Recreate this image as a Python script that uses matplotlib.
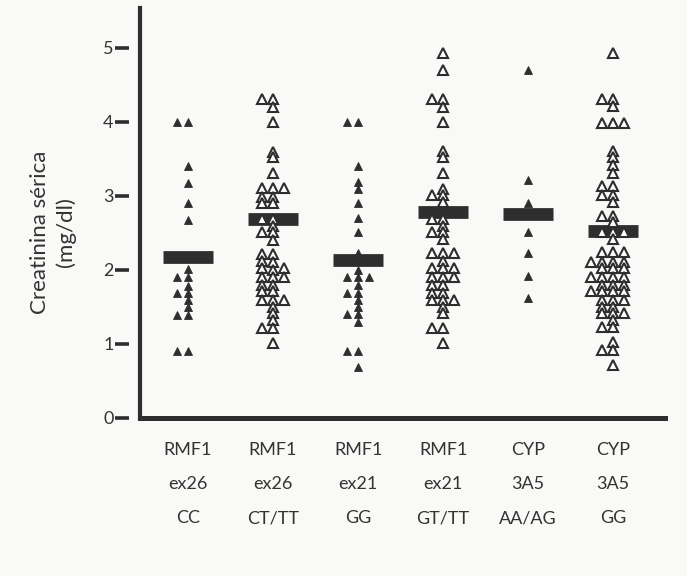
import numpy as np
import matplotlib
matplotlib.use("Agg")
import matplotlib.pyplot as plt

# categorias (eje x)
grupos = ["RMF1\nex26\nCC", "RMF1\nex26\nCT/TT", "RMF1\nex21\nGG",
          "RMF1\nex21\nGT/TT", "CYP\n3A5\nAA/AG", "CYP\n3A5\nGG"]
# True = triangulo relleno, False = triangulo vacio
relleno = [True, False, True, False, True, False]

# creatinina serica (mg/dl)
g1 = [4.0, 4.0, 3.41, 3.18, 2.90, 2.68, 2.02, 1.91, 1.91, 1.79, 1.69, 1.69,
      1.59, 1.50, 1.39, 1.39, 0.90, 0.90]
g2 = [4.31, 4.31, 4.20, 4.00, 3.60, 3.52, 3.31, 3.11, 3.11, 3.11, 2.99, 2.99,
      2.90, 2.90, 2.69, 2.69, 2.59, 2.51, 2.51, 2.41, 2.22, 2.22, 2.12, 2.11,
      2.03, 2.03, 2.00, 1.91, 1.91, 1.91, 1.80, 1.80, 1.71, 1.71, 1.59, 1.59,
      1.59, 1.50, 1.42, 1.32, 1.22, 1.22, 1.02]
g3 = [4.0, 4.0, 3.41, 3.19, 3.09, 2.91, 2.70, 2.51, 2.23, 2.00, 1.91, 1.91,
      1.91, 1.80, 1.69, 1.69, 1.59, 1.50, 1.40, 1.40, 1.30, 0.90, 0.90, 0.69]
g4 = [4.93, 4.70, 4.31, 4.31, 4.20, 4.00, 3.61, 3.53, 3.31, 3.10, 3.01, 3.01,
      2.92, 2.69, 2.69, 2.59, 2.51, 2.51, 2.42, 2.23, 2.23, 2.23, 2.12, 2.03,
      2.03, 2.03, 1.91, 1.91, 1.91, 1.80, 1.80, 1.69, 1.69, 1.59, 1.59, 1.59,
      1.50, 1.42, 1.22, 1.22, 1.02]
g5 = [4.70, 3.21, 2.91, 2.75, 2.52, 2.23, 1.92, 1.62]
g6 = [4.93, 4.31, 4.31, 4.21, 3.99, 3.99, 3.99, 3.61, 3.53, 3.42, 3.31, 3.14,
      3.14, 3.01, 3.01, 2.92, 2.73, 2.73, 2.65, 2.52, 2.52, 2.52, 2.42, 2.24,
      2.24, 2.24, 2.11, 2.11, 2.11, 2.11, 2.03, 2.03, 2.03, 1.91, 1.91, 1.91,
      1.91, 1.80, 1.80, 1.80, 1.71, 1.71, 1.71, 1.71, 1.59, 1.59, 1.59, 1.50,
      1.50, 1.42, 1.42, 1.42, 1.32, 1.23, 1.23, 1.03, 0.92, 0.92, 0.72]
medias = [2.17, 2.69, 2.14, 2.78, 2.75, 2.53]
yticks = [0, 1, 2, 3, 4, 5]

datos = [g1, g2, g3, g4, g5, g6]
color = "#2e2e2e"
fondo = "#f9f9f7"

plt.rcParams["font.family"] = ["Lato", "DejaVu Sans"]

fig = plt.figure(figsize=(6.87, 5.76), dpi=100, facecolor=fondo)
ax = fig.add_axes([140 / 687, 158 / 576, 525 / 687, 410 / 576])
ax.set_facecolor(fondo)
ax.set_xlim(0.435, 6.61)
ax.set_ylim(0, 5.54)


def enjambre(vals, px_x, px_y, paso=11.0, dx_min=8.5, dy_min=5.0):
    # reparte los puntos de un grupo para que no se pisen (en pixeles)
    cands = [0, -1, 1, -0.5, 0.5, -1.5, 1.5, -2, 2, -2.5, 2.5, -3, 3]
    vals = np.asarray(vals)
    offs = np.zeros(len(vals))
    puestos = []
    for i in np.argsort(vals, kind="stable"):
        y = vals[i] * px_y
        for c in cands:
            x = c * paso
            if all(abs(x - px) >= dx_min or abs(y - py) >= dy_min
                   for px, py in puestos):
                break
        puestos.append((x, y))
        offs[i] = x / px_x
    return offs


bb = ax.get_window_extent()
px_x = bb.width / (ax.get_xlim()[1] - ax.get_xlim()[0])
px_y = bb.height / (ax.get_ylim()[1] - ax.get_ylim()[0])

for i, (vals, lleno) in enumerate(zip(datos, relleno)):
    pos = i + 1
    ax.plot([pos - 0.295, pos + 0.295], [medias[i], medias[i]], color=color,
            lw=9.2, solid_capstyle="butt", zorder=2)
    xs = pos + enjambre(vals, px_x, px_y)
    if lleno:
        ax.plot(xs, vals, ls="none", marker="^", ms=6.0, mfc=color, mec=color,
                mew=0.6, zorder=3)
    else:
        ax.plot(xs, vals, ls="none", marker="^", ms=7.8, mfc="white", mec=color,
                mew=1.5, zorder=3)

for s in ["top", "right"]:
    ax.spines[s].set_visible(False)
ax.spines["left"].set_linewidth(3.0)
ax.spines["bottom"].set_linewidth(3.6)
ax.spines["left"].set_color(color)
ax.spines["bottom"].set_color(color)

ax.set_yticks(yticks)
ax.set_yticklabels([str(t) for t in yticks], fontsize=13, color="#333333")
ax.set_xticks(range(1, 7))
ax.set_xticklabels(grupos, fontsize=13, color="#333333", linespacing=2.4)
ax.tick_params(axis="y", length=0, pad=19)
ax.tick_params(axis="x", length=0, pad=17)

# marcas cortas separadas del eje
ax.plot(np.full(len(yticks), -18 / bb.width), yticks,
        transform=ax.get_yaxis_transform(), ls="none", marker="_",
        ms=9.4, mew=2.6, color=color, clip_on=False)

ax.set_ylabel("Creatinina sérica\n(mg/dl)", fontsize=16, color="#333333",
              linespacing=1.3)
ax.yaxis.set_label_coords(-0.122, 0.454)

fig.savefig("out.png", dpi=100, facecolor=fondo)
